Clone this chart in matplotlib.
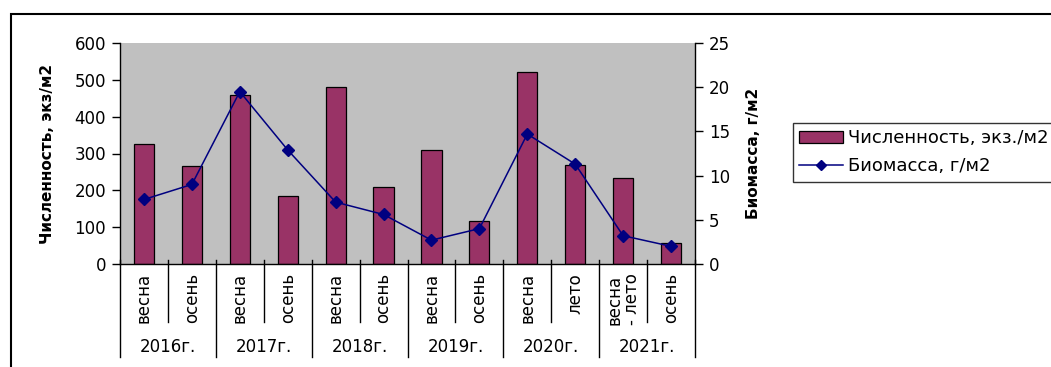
import matplotlib.pyplot as plt
from matplotlib.patches import Rectangle
import numpy as np

plt.rcParams['font.family'] = ['DejaVu Sans']

# Data
seasons = ['весна', 'осень', 'весна', 'осень', 'весна', 'осень',
           'весна', 'осень', 'весна', 'лето', 'весна\n- лето', 'осень']
years = ['2016г.', '2017г.', '2018г.', '2019г.', '2020г.', '2021г.']
abundance = [325, 265, 460, 185, 480, 210, 310, 117, 520, 270, 233, 58]
biomass = [7.3, 9.0, 19.5, 12.9, 7.0, 5.6, 2.7, 4.0, 14.7, 11.3, 3.2, 2.0]

bar_color = '#993366'
line_color = '#000080'
fs = 12

W, H = 1051, 367
fig = plt.figure(figsize=(W / 100, H / 100), dpi=100)

# outer chart frame (clipped at right and bottom in the original)
fig.patches.append(Rectangle((11 / W, -0.1), 1.2, 1 - 14 / H + 0.1,
                             transform=fig.transFigure, fill=False,
                             edgecolor='black', linewidth=1.5))

ax = fig.add_axes([120 / W, 1 - 264 / H, 575 / W, 221 / H])
ax.set_facecolor('#c0c0c0')
x = np.arange(len(abundance))
bars = ax.bar(x, abundance, width=0.42, color=bar_color, edgecolor='black',
              linewidth=0.9, label='Численность, экз./м2', zorder=2)
ax.set_xlim(-0.5, len(abundance) - 0.5)
ax.set_ylim(0, 600)
ax.set_yticks(range(0, 601, 100))
ax.tick_params(axis='y', labelsize=fs, direction='out', length=6, width=1, pad=4)
ax.set_xticks([])
ax.spines['top'].set_visible(False)
ax.spines['right'].set_visible(False)
ax.spines['left'].set_linewidth(1)
ax.spines['bottom'].set_linewidth(1)
ax.set_ylabel('Численность, экз/м2', fontsize=11, fontweight='bold')
ax.yaxis.set_label_coords(-0.113, 0.5)

ax2 = ax.twinx()
line, = ax2.plot(x, biomass, color=line_color, marker='D', markersize=6.5,
                 linewidth=1.1, label='Биомасса, г/м2', zorder=3)
ax2.set_ylim(0, 25)
ax2.set_yticks(range(0, 26, 5))
ax2.tick_params(axis='y', labelsize=fs, direction='out', length=6, width=1, pad=4)
for s in ['top', 'left', 'bottom']:
    ax2.spines[s].set_visible(False)
ax2.spines['right'].set_linewidth(1)
ax2.set_ylabel('Биомасса, г/м2', fontsize=11, fontweight='bold')
ax2.yaxis.set_label_coords(1.088, 0.5)

# category axis: separators, season labels, year labels
trans = ax.get_xaxis_transform()
for i in range(len(abundance) + 1):
    b = i - 0.5
    low = -0.421 if i % 2 == 0 else -0.262
    ax.plot([b, b], [0.02, low], color='black', linewidth=1,
            transform=trans, clip_on=False, zorder=5)
for i, s in enumerate(seasons):
    ax.text(i, -0.04, s, transform=trans, rotation=90, ha='center', va='top',
            fontsize=fs, multialignment='left', linespacing=1.0)
for j, y in enumerate(years):
    ax.text(2 * j + 0.5, -0.376, y, transform=trans, ha='center', va='center',
            fontsize=fs)

leg = fig.legend(handles=[bars, line], loc='upper left',
                 bbox_to_anchor=(793 / W, 1 - 123 / H), fontsize=13,
                 frameon=True, fancybox=False, edgecolor='black',
                 borderpad=0.35, handlelength=2.4, handletextpad=0.3,
                 labelspacing=0.55, borderaxespad=0, markerscale=0.8)
leg.get_frame().set_linewidth(1)

fig.savefig('out.png', dpi=100)
